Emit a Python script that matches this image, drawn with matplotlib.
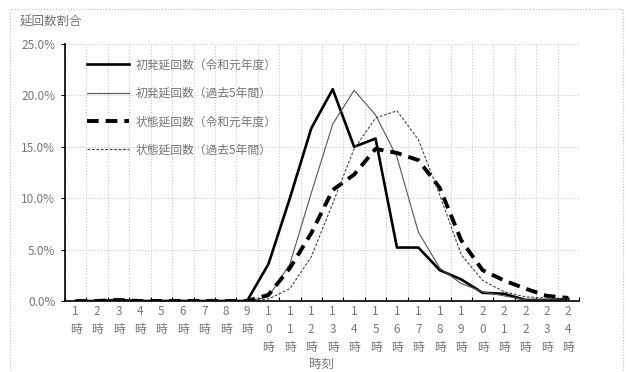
"""
Hourly share of delay counts: first-departure vs. state-based, FY2019 vs. past 5 years
"""

import numpy as np
import matplotlib.pyplot as plt
from matplotlib.patches import Rectangle

plt.rcParams['font.family'] = ['Noto Sans CJK JP', 'DejaVu Sans']

################# data #####################
hours = list(range(1, 25))
hour_labels = ['\n'.join(list(str(h))) + '\n時' for h in hours]

first_r1 = [0.0, 0.0, 0.1, 0.0, 0.0, 0.0, 0.0, 0.0, 0.0, 3.6, 10.0, 16.8,
            20.6, 15.0, 15.8, 5.2, 5.2, 3.0, 2.1, 0.8, 0.7, 0.1, 0.1, 0.2]
first_5y = [0.0, 0.0, 0.1, 0.0, 0.0, 0.0, 0.0, 0.0, 0.0, 0.4, 3.6, 10.5,
            17.2, 20.5, 18.1, 14.0, 6.7, 3.2, 1.7, 0.9, 0.5, 0.1, 0.1, 0.1]
state_r1 = [0.0, 0.0, 0.1, 0.0, 0.0, 0.0, 0.0, 0.0, 0.0, 0.6, 3.2, 6.6,
            10.8, 12.3, 14.8, 14.4, 13.7, 11.0, 5.9, 3.0, 2.0, 1.2, 0.5, 0.3]
state_5y = [0.0, 0.0, 0.1, 0.0, 0.0, 0.0, 0.0, 0.0, 0.0, 0.2, 1.2, 4.3,
            9.5, 14.8, 17.8, 18.5, 15.7, 10.3, 4.5, 2.0, 0.9, 0.4, 0.3, 0.2]

series_names = ['初発延回数（令和元年度）', '初発延回数（過去5年間）',
                '状態延回数（令和元年度）', '状態延回数（過去5年間）']

txt = '#767676'
fs = 8.5

fig = plt.figure(figsize=(6.26, 3.72), dpi=100)
ax = fig.add_axes([65/626, 71/372, 514/626, 257/372])

# chart border
fig.patches.append(Rectangle((10/626, -0.02), 613/626, 1.02 - 9/372, transform=fig.transFigure,
                             fill=False, edgecolor='#bdbdbd', linewidth=0.8, linestyle=':'))

x = np.array(hours)
ax.plot(x, first_r1, color='black', linewidth=1.9, label=series_names[0])
ax.plot(x, first_5y, color='#555555', linewidth=0.8, label=series_names[1])
ax.plot(x, state_r1, color='black', linewidth=2.8, dashes=(3.0, 1.8), label=series_names[2])
ax.plot(x, state_5y, color='#444444', linewidth=0.8, dashes=(2.5, 1.5), label=series_names[3])

ax.set_xlim(0.5, 24.5)
ax.set_ylim(0, 25)

# gridlines on category boundaries, labels at category centres
ax.set_xticks(np.arange(0.5, 25, 1))
ax.set_xticklabels([])
ax.set_xticks(x, minor=True)
ax.set_xticklabels(hour_labels, minor=True, fontsize=fs, color=txt, linespacing=1.5, va='top')
ax.tick_params(axis='x', which='minor', length=0, pad=3)
ax.tick_params(axis='x', which='major', direction='in', length=3, color='black')

ax.set_yticks(np.arange(0, 26, 5))
ax.set_yticklabels(['%.1f%%' % v for v in np.arange(0, 26, 5)], fontsize=fs, color=txt)
ax.tick_params(axis='y', direction='out', length=3, color='black', pad=4)

ax.grid(True, which='major', color='#c8c8c8', linestyle=':', linewidth=0.8)
ax.set_axisbelow(True)
for s in ['top', 'right']:
    ax.spines[s].set_visible(False)
ax.spines['left'].set_linewidth(1.2)
ax.spines['bottom'].set_linewidth(1.2)

fig.text(20/626, 1 - 22/372, '延回数割合', fontsize=9, color=txt, va='center', ha='left')
fig.text(321/626, 1 - 364/372, '時刻', fontsize=9, color=txt, va='center', ha='center')

leg = ax.legend(loc='upper left', bbox_to_anchor=(0.023, 0.985), frameon=False, fontsize=fs,
                handlelength=3.5, handletextpad=0.6, labelspacing=1.3, labelcolor=txt)

fig.savefig('out.png', dpi=100)
